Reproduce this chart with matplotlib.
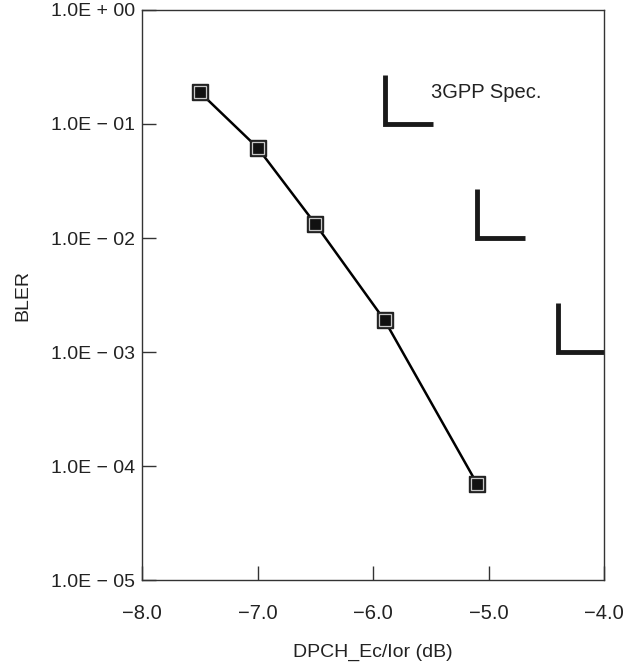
import numpy as np
import matplotlib.pyplot as plt

plt.rcParams['font.family'] = ['Liberation Sans', 'DejaVu Sans']
plt.rcParams['font.size'] = 14

# measured BLER curve
ec_ior = [-7.5, -7.0, -6.5, -5.9, -5.1]
bler = [0.19, 0.062, 0.0133, 0.0019, 7.0e-5]

# 3GPP spec corner points (requirement at each level)
spec_x = [-5.9, -5.1, -4.4]
spec_y = [1e-1, 1e-2, 1e-3]

y_ticks = [1e0, 1e-1, 1e-2, 1e-3, 1e-4, 1e-5]
y_labels = ['1.0E + 00', '1.0E \u2212 01', '1.0E \u2212 02', '1.0E \u2212 03',
            '1.0E \u2212 04', '1.0E \u2212 05']
x_ticks = [-8.0, -7.0, -6.0, -5.0, -4.0]
x_labels = ['\u22128.0', '\u22127.0', '\u22126.0', '\u22125.0', '\u22124.0']

fig = plt.figure(figsize=(6.29, 6.66), dpi=100)
ax = fig.add_axes([0.2258, 0.1291, 0.7345, 0.8559])

ax.plot(ec_ior, bler, color='black', lw=1.8, zorder=2)
ax.plot(ec_ior, bler, ls='none', marker='s', ms=11, mfc='#222222',
        mec='#222222', zorder=3)
ax.plot(ec_ior, bler, ls='none', marker='s', ms=8.5, mfc='#111111',
        mec='#c8c8c8', mew=0.9, zorder=4)

# L-shaped spec marks
for sx, sy in zip(spec_x, spec_y):
    ax.plot([sx, sx, sx + 0.42], [sy * 10 ** 0.43, sy, sy],
            color='#1a1a1a', lw=3.5, solid_joinstyle='miter',
            solid_capstyle='butt', clip_on=True, zorder=2)

ax.text(-5.5, 0.19, '3GPP Spec.', ha='left', va='center', fontsize=14.5,
        color='#222222')

ax.set_yscale('log')
ax.set_xlim(-8.0, -4.0)
ax.set_ylim(1e-5, 1e0)
ax.set_yticks(y_ticks)
ax.set_yticklabels(y_labels)
ax.set_xticks(x_ticks)
ax.set_xticklabels(x_labels)
ax.minorticks_off()
ax.tick_params(axis='both', direction='in', length=10, width=1,
               color='#333333', labelcolor='#222222')
ax.tick_params(axis='y', pad=5, labelsize=14)
ax.tick_params(axis='x', pad=17, labelsize=14.5)
for sp in ax.spines.values():
    sp.set_linewidth(1.0)
    sp.set_color('#333333')

ax.set_xlabel('DPCH_Ec/Ior (dB)', labelpad=15, color='#222222', fontsize=14)
ax.set_ylabel('BLER', labelpad=14, color='#222222', fontsize=14)

fig.savefig('out.png', dpi=100)
